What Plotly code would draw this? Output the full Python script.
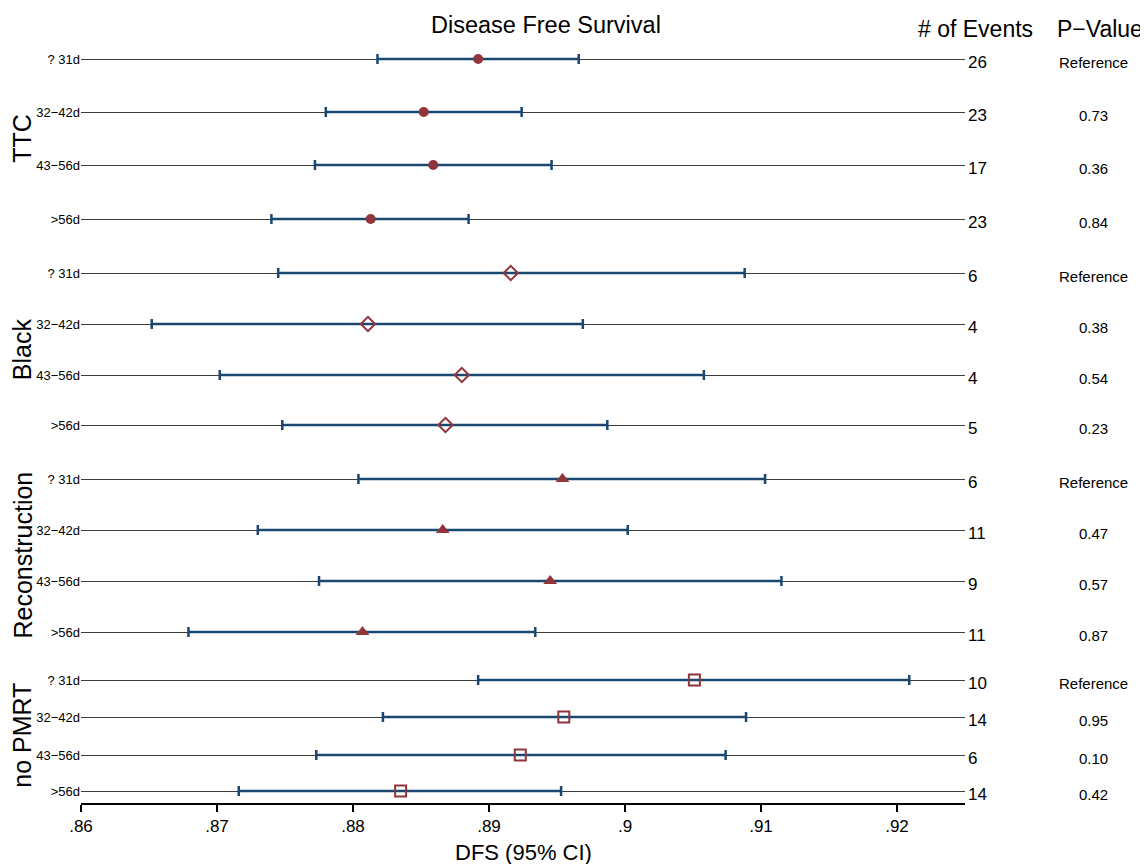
import plotly.graph_objects as go

# ---------------- data ----------------
groups = ["TTC", "Black", "Reconstruction", "no PMRT"]
group_symbols = ["circle", "diamond-open", "triangle-up", "square-open"]
row_labels = ["? 31d", "32−42d", "43−56d", ">56d"] * 4
row_pos = [1.9, 7.2, 12.5, 17.9,
           23.3, 28.4, 33.5, 38.5,
           43.9, 49.0, 54.1, 59.2,
           64.0, 67.7, 71.5, 75.1]

est = [0.8892, 0.8852, 0.8859, 0.8813,
       0.8916, 0.8811, 0.8880, 0.8868,
       0.8954, 0.8866, 0.8945, 0.8807,
       0.9051, 0.8955, 0.8923, 0.8835]
lower = [0.8818, 0.8780, 0.8772, 0.8740,
         0.8745, 0.8652, 0.8702, 0.8748,
         0.8804, 0.8730, 0.8775, 0.8679,
         0.8892, 0.8822, 0.8773, 0.8716]
upper = [0.8966, 0.8924, 0.8946, 0.8885,
         0.9088, 0.8969, 0.9058, 0.8987,
         0.9103, 0.9002, 0.9115, 0.8934,
         0.9209, 0.9089, 0.9074, 0.8953]
events = [26, 23, 17, 23, 6, 4, 4, 5, 6, 11, 9, 11, 10, 14, 6, 14]
pvals = ["Reference", "0.73", "0.36", "0.84",
         "Reference", "0.38", "0.54", "0.23",
         "Reference", "0.47", "0.57", "0.87",
         "Reference", "0.95", "0.10", "0.42"]

x_tickvals = [0.86, 0.87, 0.88, 0.89, 0.90, 0.91, 0.92]
x_ticktext = [".86", ".87", ".88", ".89", ".9", ".91", ".92"]
x_range = [0.86, 0.925]
y_range = [76.3, 0]

title_text = "Disease Free Survival"
x_title = "DFS (95% CI)"
events_header = "# of Events"
pval_header = "P−Value"

# ---------------- style ----------------
FONT = "Liberation Sans, Arial, Helvetica, sans-serif"
NAVY = "#1a476f"
MAROON = "#90353b"

fig = go.Figure()

for gi, g in enumerate(groups):
    idx = list(range(gi * 4, gi * 4 + 4))
    sym = group_symbols[gi]
    open_sym = sym.endswith("-open")
    fig.add_trace(go.Scatter(
        x=[est[i] for i in idx],
        y=[row_pos[i] for i in idx],
        mode="markers",
        marker=dict(
            symbol=sym,
            size=11 if open_sym else (12 if sym == "triangle-up" else 10),
            color=MAROON,
            line=dict(color=MAROON, width=2 if open_sym else 0),
        ),
        error_x=dict(
            type="data",
            symmetric=False,
            array=[upper[i] - est[i] for i in idx],
            arrayminus=[est[i] - lower[i] for i in idx],
            color=NAVY,
            thickness=2.5,
            width=5,
        ),
        showlegend=False,
        cliponaxis=False,
        hoverinfo="skip",
    ))

annotations = []
# group labels (rotated)
for gi, g in enumerate(groups):
    ys = row_pos[gi * 4: gi * 4 + 4]
    annotations.append(dict(
        x=0, xref="paper", xshift=-59, xanchor="center",
        y=sum(ys) / len(ys), yref="y", yanchor="middle",
        text=g, textangle=-90, showarrow=False,
        font=dict(size=25, family=FONT, color="black"),
    ))

# events and p-values
for i in range(len(row_pos)):
    annotations.append(dict(
        x=1, xref="paper", xanchor="left", xshift=1,
        y=row_pos[i], yref="y", yanchor="middle", yshift=-3,
        text=str(events[i]), showarrow=False,
        font=dict(size=17, family=FONT, color="black"),
    ))
    annotations.append(dict(
        x=1, xref="paper", xanchor="center", xshift=128,
        y=row_pos[i], yref="y", yanchor="middle", yshift=-3,
        text=pvals[i], showarrow=False,
        font=dict(size=15, family=FONT, color="black"),
    ))

# headers / titles
annotations += [
    dict(x=0.5255, xref="paper", xanchor="center", y=1, yref="paper",
         yanchor="middle", yshift=15, text=title_text, showarrow=False,
         font=dict(size=23.5, family=FONT, color="black")),
    dict(x=1, xref="paper", xanchor="center", xshift=10, y=1, yref="paper",
         yanchor="middle", yshift=11, text=events_header, showarrow=False,
         font=dict(size=23, family=FONT, color="black")),
    dict(x=1, xref="paper", xanchor="center", xshift=135, y=1, yref="paper",
         yanchor="middle", yshift=11, text=pval_header, showarrow=False,
         font=dict(size=23, family=FONT, color="black")),
    dict(x=0.5, xref="paper", xanchor="center", y=0, yref="paper",
         yanchor="middle", yshift=-49, text=x_title, showarrow=False,
         font=dict(size=22, family=FONT, color="black")),
]

fig.update_layout(
    width=1140, height=856,
    margin=dict(l=73, r=183, t=32, b=61),
    paper_bgcolor="white", plot_bgcolor="white",
    font=dict(family=FONT, color="black"),
    annotations=annotations,
    showlegend=False,
)

fig.update_xaxes(
    range=x_range, tickvals=x_tickvals, ticktext=x_ticktext,
    ticks="outside", ticklen=7, tickwidth=1.5, tickcolor="black",
    showline=True, linecolor="black", linewidth=1.5,
    showgrid=False, zeroline=False,
    tickfont=dict(size=17, family=FONT, color="black"),
)
fig.update_yaxes(
    range=y_range, tickvals=row_pos, ticktext=row_labels,
    ticks="", showline=False, zeroline=False,
    showgrid=True, gridcolor="#3c3c3c", gridwidth=1.3,
    tickfont=dict(size=13, family=FONT, color="black"),
)

fig.write_html("out.html")
